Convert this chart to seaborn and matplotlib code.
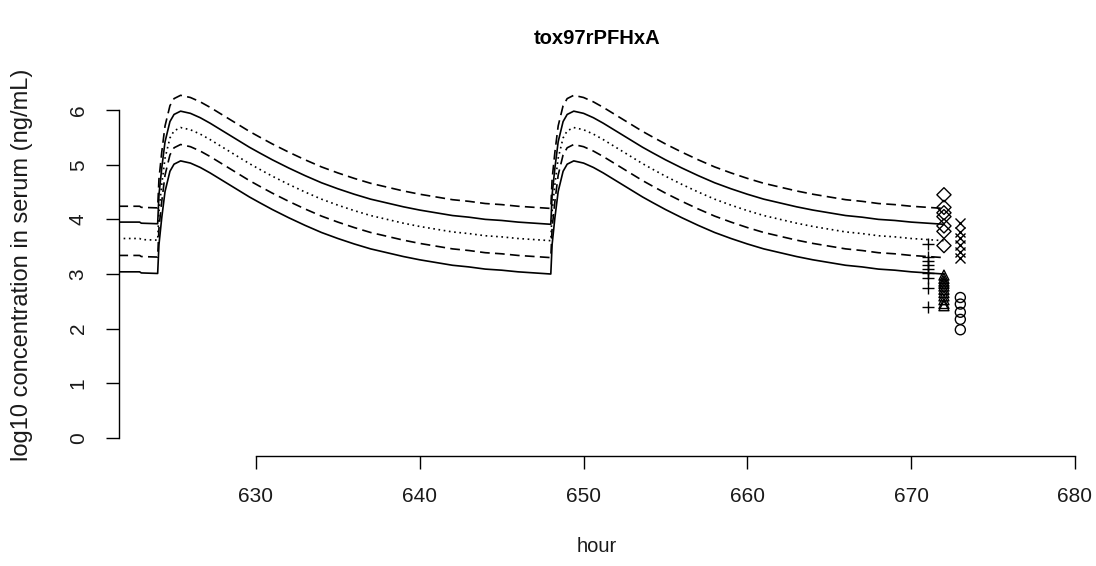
import matplotlib
matplotlib.use("Agg")
import matplotlib.pyplot as plt
import seaborn as sns

# ---------------- data ----------------
# time grid: pre-dose part, then two identical 24 h dosing cycles (doses at 624 h and 648 h)
pre_hours = [621.6, 622.9, 623.0, 624.0]
cycle1_hours = [624.08, 624.25, 624.45, 624.75, 625.0, 625.4, 626.0, 626.6,
                627.2, 627.8, 628.4, 629.0, 629.6, 630.2, 631.0, 632.0,
                633.0, 634.0, 635.0, 636.0, 637.0, 638.0, 639.0, 640.0,
                641.0, 642.0, 643.0, 644.0, 645.0, 646.0, 647.0, 648.0]
cycle2_hours = [648.08, 648.25, 648.45, 648.75, 649.0, 649.4, 650.0, 650.6,
                651.2, 651.8, 652.4, 653.0, 653.6, 654.2, 655.0, 656.0,
                657.0, 658.0, 659.0, 660.0, 661.0, 662.0, 663.0, 664.0,
                665.0, 666.0, 667.0, 668.0, 669.0, 670.0, 671.0, 672.0]
hours = pre_hours + cycle1_hours + cycle2_hours

# log10 concentration, per simulated percentile curve (pre-dose values, one-cycle values)
upper_dashed_pre = [4.24, 4.24, 4.22, 4.21]
upper_dashed_cycle = [4.74, 5.23, 5.71, 6.08, 6.21, 6.27, 6.23, 6.15, 6.05, 5.94,
                      5.83, 5.72, 5.61, 5.51, 5.38, 5.23, 5.09, 4.96, 4.85, 4.75,
                      4.66, 4.59, 4.52, 4.46, 4.41, 4.36, 4.33, 4.29, 4.27, 4.24,
                      4.22, 4.20]
upper_solid_pre = [3.95, 3.95, 3.93, 3.92]
upper_solid_cycle = [4.45, 4.94, 5.42, 5.79, 5.92, 5.98, 5.94, 5.86, 5.76, 5.65,
                     5.54, 5.43, 5.32, 5.22, 5.09, 4.94, 4.80, 4.67, 4.56, 4.46,
                     4.37, 4.30, 4.23, 4.17, 4.12, 4.07, 4.04, 4.00, 3.98, 3.95,
                     3.93, 3.91]
middle_dotted_pre = [3.65, 3.65, 3.63, 3.62]
middle_dotted_cycle = [4.15, 4.64, 5.12, 5.49, 5.62, 5.68, 5.64, 5.56, 5.46, 5.35,
                       5.24, 5.13, 5.02, 4.92, 4.79, 4.64, 4.50, 4.37, 4.26, 4.16,
                       4.07, 4.00, 3.93, 3.87, 3.82, 3.77, 3.74, 3.70, 3.68, 3.65,
                       3.63, 3.61]
lower_dashed_pre = [3.34, 3.34, 3.32, 3.31]
lower_dashed_cycle = [3.84, 4.33, 4.81, 5.18, 5.31, 5.37, 5.33, 5.25, 5.15, 5.04,
                      4.93, 4.82, 4.71, 4.61, 4.48, 4.33, 4.19, 4.06, 3.95, 3.85,
                      3.76, 3.69, 3.62, 3.56, 3.51, 3.46, 3.43, 3.39, 3.37, 3.34,
                      3.32, 3.30]
lower_solid_pre = [3.04, 3.04, 3.02, 3.01]
lower_solid_cycle = [3.54, 4.03, 4.51, 4.88, 5.01, 5.07, 5.03, 4.95, 4.85, 4.74,
                     4.63, 4.52, 4.41, 4.31, 4.18, 4.03, 3.89, 3.76, 3.65, 3.55,
                     3.46, 3.39, 3.32, 3.26, 3.21, 3.16, 3.13, 3.09, 3.07, 3.04,
                     3.02, 3.00]

upper_dashed = upper_dashed_pre + upper_dashed_cycle + upper_dashed_cycle
upper_solid = upper_solid_pre + upper_solid_cycle + upper_solid_cycle
middle_dotted = middle_dotted_pre + middle_dotted_cycle + middle_dotted_cycle
lower_dashed = lower_dashed_pre + lower_dashed_cycle + lower_dashed_cycle
lower_solid = lower_solid_pre + lower_solid_cycle + lower_solid_cycle

# observed points
plus_hour = 671
plus_vals = [3.55, 3.32, 3.24, 3.16, 3.10, 3.01, 2.92, 2.74, 2.40]
tri_hour = 672
tri_vals = [2.98, 2.92, 2.87, 2.83, 2.78, 2.72, 2.66, 2.60, 2.53, 2.46, 2.42]
diam_hour = 672
diam_vals = [4.45, 4.22, 4.12, 4.05, 3.88, 3.78, 3.52]
x_hour = 673
x_vals = [3.93, 3.77, 3.66, 3.53, 3.40, 3.29]
circ_hour = 673
circ_vals = [2.57, 2.45, 2.30, 2.17, 1.98]

title = "tox97rPFHxA"
xlabel = "hour"
ylabel = "log10 concentration in serum (ng/mL)"
xticks = [630, 640, 650, 660, 670, 680]
yticks = [0, 1, 2, 3, 4, 5, 6]

# ---------------- style ----------------
sns.set_theme(style="white")
plt.rcParams["font.family"] = ["Liberation Sans", "DejaVu Sans"]
plt.rcParams["lines.scale_dashes"] = False

W, H = 1096, 566
fig = plt.figure(figsize=(W / 100, H / 100), dpi=100)
left_px, right_px, bottom_px, top_px = 119, 1075, 456, 74
ax = fig.add_axes([left_px / W, 1 - bottom_px / H,
                   (right_px - left_px) / W, (bottom_px - top_px) / H])
ax.set_facecolor("white")

series = [
    (upper_dashed, (0, (7.0, 3.8))),
    (upper_solid, "-"),
    (middle_dotted, (0, (1.2, 2.6))),
    (lower_dashed, (0, (7.0, 3.8))),
    (lower_solid, "-"),
]
for vals, ls in series:
    sns.lineplot(x=hours, y=vals, ax=ax, color="black", linewidth=1.2,
                 linestyle=ls, estimator=None, sort=False)

mk = dict(ax=ax, linewidth=1.0, legend=False)
sns.scatterplot(x=[plus_hour] * len(plus_vals), y=plus_vals, marker="+",
                s=72, color="black", **mk)
sns.scatterplot(x=[tri_hour] * len(tri_vals), y=tri_vals, marker="^",
                s=52, facecolor="none", edgecolor="black", **mk)
sns.scatterplot(x=[diam_hour] * len(diam_vals), y=diam_vals, marker="D",
                s=52, facecolor="none", edgecolor="black", **mk)
sns.scatterplot(x=[x_hour] * len(x_vals), y=x_vals, marker="x",
                s=52, color="black", **mk)
sns.scatterplot(x=[circ_hour] * len(circ_vals), y=circ_vals, marker="o",
                s=52, facecolor="none", edgecolor="black", **mk)

ax.set_xlim(621.64, 680.0)
ax.set_ylim(-0.33, 6.66)

for s in ["top", "right"]:
    ax.spines[s].set_visible(False)
for s in ["left", "bottom"]:
    ax.spines[s].set_color("black")
    ax.spines[s].set_linewidth(1.0)
ax.spines["left"].set_bounds(0, 6)
ax.spines["bottom"].set_bounds(630, 680)

ax.set_xticks(xticks)
ax.set_yticks(yticks)
ax.set_xticklabels([str(t) for t in xticks])
ax.set_yticklabels([str(t) for t in yticks], rotation=90, va="center")
ax.tick_params(axis="both", which="major", direction="out", length=9.5,
               width=1.0, color="black", labelcolor="#1a1a1a", labelsize=15,
               bottom=True, left=True, top=False, right=False)
ax.tick_params(axis="x", pad=13)
ax.tick_params(axis="y", pad=13)

ax.set_xlabel(xlabel, fontsize=14.5, color="#1a1a1a")
ax.set_ylabel(ylabel, fontsize=17, color="#1a1a1a")
ax.xaxis.set_label_coords((597 - left_px) / (right_px - left_px),
                          (bottom_px - 547) / (bottom_px - top_px))
ax.xaxis.label.set_va("center")
ax.yaxis.set_label_coords((22 - left_px) / (right_px - left_px), 0.5)
ax.yaxis.label.set_va("center")

fig.text(597 / W, 1 - 38 / H, title, ha="center", va="center",
         fontsize=14.5, fontweight="bold", color="black")

fig.savefig("out.png", dpi=100, facecolor="white")
